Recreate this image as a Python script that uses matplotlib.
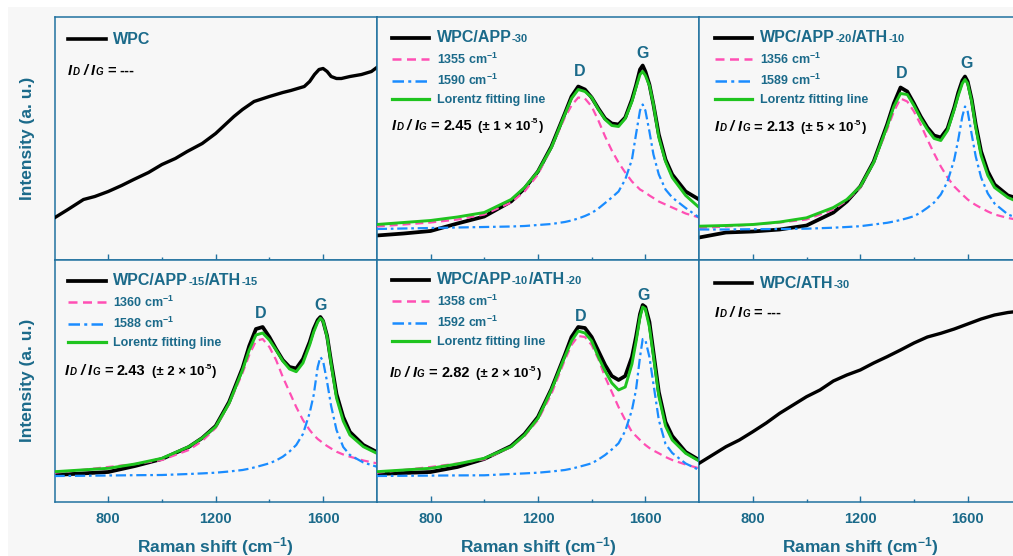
import matplotlib
matplotlib.use("Agg")
import matplotlib.pyplot as plt
from matplotlib.font_manager import FontProperties
from matplotlib.lines import Line2D
from matplotlib.patches import Rectangle
from matplotlib.ticker import FixedLocator

FONT = "Liberation Sans"
plt.rcParams["font.family"] = [FONT, "DejaVu Sans"]
plt.rcParams["mathtext.fontset"] = "custom"
plt.rcParams["mathtext.rm"] = "Liberation Sans:bold"
plt.rcParams["mathtext.bf"] = "Liberation Sans:bold"
plt.rcParams["mathtext.it"] = "Liberation Sans:bold:italic"
plt.rcParams["mathtext.sf"] = "Liberation Sans:bold"
plt.rcParams["mathtext.default"] = "rm"

# ---------------- data ----------------
x_wpc = [600, 650, 708, 750, 800, 850, 895, 950, 1000, 1050, 1094, 1150, 1200, 1240,
         1268, 1300, 1343, 1400, 1450, 1480, 1530, 1550, 1568, 1585, 1600, 1615, 1630,
         1650, 1668, 1700, 1743, 1780, 1800]
y_wpc = [41.7, 50, 60, 63, 68, 74, 80, 87, 95, 101, 108, 116, 126, 136,
         143, 150, 158, 163, 167, 169, 173, 178, 185, 190, 191, 188, 183,
         181, 181, 183, 185, 188, 192]

x_ath30 = [600, 650, 700, 750, 800, 850, 900, 950, 1000, 1050, 1100, 1150, 1200, 1250,
           1300, 1350, 1400, 1450, 1500, 1550, 1600, 1650, 1700, 1750, 1800]
y_ath30 = [38.7, 47, 55.3, 62, 70.3, 79, 88.7, 97, 105.3, 112, 121, 127, 132, 139,
           145.3, 152, 159, 165, 168.7, 173, 178, 183, 187, 189.5, 191]

x_fit = [600, 700, 800, 900, 1000, 1100, 1150, 1200, 1250, 1300, 1325, 1350, 1375, 1400,
         1425, 1450, 1475, 1500, 1525, 1550, 1565, 1580, 1590, 1600, 1615, 1630, 1650,
         1675, 1700, 1750, 1800]

# WPC/APP-30
app30_raw = [24, 26, 28.5, 36, 43, 58, 71, 88, 113, 146, 163, 173, 170, 162,
             151, 141, 136, 135, 142, 160, 174, 190, 194, 188, 175, 155, 125,
             100, 85, 68, 60]
app30_d = [33, 35, 37, 40, 45, 57, 68, 85, 112, 142, 154, 162, 161, 153,
           139, 123, 109, 97, 87, 78, 74, 70, 68.5, 67, 64, 61.5, 58,
           55, 52, 46, 42]
app30_g = [30.5, 31, 31.5, 32, 32.5, 33, 33.5, 34.5, 35.5, 37.5, 39, 41, 43.5, 46.5,
           51, 56.5, 62, 68, 80, 100, 125, 149, 155, 149, 128, 105, 85,
           70, 62, 51.5, 42]
app30_fit = [35, 37, 39, 42.5, 47, 60, 72, 88, 112, 145, 161, 170, 168, 162,
             150, 140, 134, 133, 141, 158, 172, 185, 188, 184, 174, 155, 122,
             98, 82, 64, 52]

# WPC/APP-20/ATH-10
a20_raw = [22, 27, 28, 30, 34, 47, 58, 73, 98, 135, 156, 172, 168, 156,
           143, 132, 124, 122, 131, 152, 167, 179, 183, 178, 160, 135, 108,
           88, 75, 64, 60]
a20_d = [31.5, 33, 35, 37, 40, 50, 59, 72, 97, 130, 148, 161, 158, 148,
         135, 120, 106, 93, 82, 73, 69, 65, 62.5, 60, 57, 54.5, 51.5,
         48, 45, 41.5, 39]
a20_g = [30, 30, 30.3, 30.5, 30.8, 31.8, 32.5, 33.3, 35, 36.7, 38, 39.5, 41.3, 43.3,
         47, 51.7, 57, 65, 78, 100, 120, 143, 153, 148, 125, 103, 82,
         66, 56, 45, 40]
a20_fit = [33.3, 34, 35, 37.5, 41.7, 52, 60, 73, 97, 133, 153, 166, 165, 154,
           141, 130, 121, 119, 129, 150, 164, 176, 180, 176, 158, 132, 104,
           84, 72, 62, 56]

# WPC/APP-15/ATH-15
a15_raw = [27, 28.5, 30, 36, 43, 55, 64, 76, 100, 134, 156, 173, 175, 165,
           153, 142, 135, 133.5, 143, 160, 173, 182, 185, 181, 166, 140, 108,
           85, 70, 57, 50]
a15_d = [29.3, 32, 35, 38, 42, 52, 61, 74, 98, 129, 147, 161, 163, 155,
         142, 125, 110, 95, 82, 72, 67, 63, 61, 58.7, 56, 53.5, 50.3,
         47.5, 45.3, 41.5, 38.7]
a15_g = [26, 26.2, 26.5, 26.8, 27, 28, 28.6, 29.3, 30.5, 32, 33.3, 35, 36.8, 38.7,
         41.5, 45.3, 50.5, 57, 68, 89, 107, 135, 145, 141, 120, 96, 72,
         55, 47, 39.5, 35.3]
a15_fit = [30.3, 32, 33.7, 38, 43.7, 55.3, 64, 75.3, 98.7, 132, 152, 167, 169, 162,
           152, 141, 133, 130.3, 139, 157, 170, 180, 183.7, 181, 165, 138, 104,
           81, 67, 55.3, 48.7]

# WPC/APP-10/ATH-20
a10_raw = [28, 29, 30, 35, 43, 56, 68, 85, 113, 147, 165, 175, 174, 165,
           151, 137, 126, 122, 126, 145, 165, 188, 197, 195, 180, 150, 110,
           80, 66, 50, 42]
a10_d = [29.3, 32, 35, 38.5, 42.7, 55, 66, 82, 108, 142, 157, 166, 165, 157,
         143, 125, 110, 95, 82, 70, 66, 62, 59.5, 57, 54, 51.5, 48.7,
         45, 42, 37.5, 33.7]
a10_g = [26, 26.2, 26.4, 26.6, 26.7, 28, 28.6, 29.3, 30.5, 32, 33.3, 35, 36.8, 38.7,
         42.5, 47, 52.5, 58.7, 71, 92, 112, 145, 163, 162, 145, 118, 82,
         58, 49, 38.5, 32]
a10_fit = [30.3, 32, 33.7, 38, 43.7, 55.3, 67, 83.7, 112, 145.3, 161, 171, 169, 161,
           145, 131, 119, 112, 115, 138, 160, 185, 195, 193, 175, 146, 106,
           76, 62, 48.7, 41]

x_ticks_major = [800, 1200, 1600]
x_ticks_minor = [1000, 1400]

# ---------------- style ----------------
BG = "#f7f7f7"
TEAL = "#1b6a8a"
SPINE = "#2272a0"
PINK = "#ff4fb4"
BLUE = "#1a8cff"
GREEN = "#1fc41f"
DASH_D = (0, (3.6, 2.2))
DASH_G = (0, (4.6, 1.7, 1.2, 1.7))

W, H = 1013, 556
fig = plt.figure(figsize=(W / 100, H / 100), dpi=100, facecolor=BG)
renderer = fig.canvas.get_renderer()
fig.patches.append(Rectangle((0, 1 - 7 / H), 1, 7 / H, transform=fig.transFigure,
                             facecolor="white", edgecolor="none", zorder=0))
fig.patches.append(Rectangle((0, 0), 8 / W, 1, transform=fig.transFigure,
                             facecolor="white", edgecolor="none", zorder=0))

col_left = [54.5, 376.8, 699.1]
row_top = [17, 259.5]
AW, AH = 322.3, 242.5


def descent_pt(fp, s):
    _, _, d1 = renderer.get_text_width_height_descent("lp", fp, ismath=False)
    _, _, d2 = renderer.get_text_width_height_descent(s, fp, ismath=False)
    return max(d1, d2) * 72.0 / fig.dpi


def rich_line(ax, x, y, parts, color="black"):
    s0, size0, style0, _, _ = parts[0]
    fp0 = FontProperties(family=FONT, size=size0, style=style0, weight="bold")
    t0 = ax.text(x, y, s0, transform=ax.transAxes, fontproperties=fp0,
                 va="baseline", ha="left", color=color, zorder=7)
    prev, pfp, ps, prise = t0, fp0, s0, 0
    for s, size, style, gap, rise in parts[1:]:
        fp = FontProperties(family=FONT, size=size, style=style, weight="bold")
        d = descent_pt(pfp, ps)
        t = ax.annotate(s, xy=(1, 0), xycoords=prev,
                        xytext=(gap, d + rise - prise), textcoords="offset points",
                        fontproperties=fp, color=color,
                        va="baseline", ha="left", zorder=7)
        prev, pfp, ps, prise = t, fp, s, rise


def ratio_parts(value, err):
    base = [("I", 10.5, "italic", 0, 0), ("D", 7, "italic", 0.3, 0),
            ("/", 10.5, "italic", 2.5, 0), ("I", 10.5, "italic", 2.5, 0),
            ("G", 7, "italic", 0.3, 0), ("=", 10.5, "normal", 3, 0)]
    if value is None:
        return base + [("---", 10.5, "normal", 3, 0)]
    return base + [(value, 10.5, "normal", 3, 0),
                   ("(\u00b1 " + err + " \u00d7 10", 9.5, "normal", 4.5, 0),
                   ("-5", 6, "normal", 0.2, 4.4),
                   (")", 9.5, "normal", 0.3, 0)]


panels = [
    dict(r=0, c=0, name=[("WPC", 11.5)], ratio=None, raw=(x_wpc, y_wpc),
         leg=(0.042, 0.940), rat=(0.042, 0.761)),
    dict(r=0, c=1, name=[("WPC/APP", 11.5), ("-30", 8)], ratio=("2.45", "1"),
         fit=(app30_raw, app30_d, app30_g, app30_fit), peaks=("1355", "1590"),
         lab=((1356, 183), (1589, 202)), leg=(0.0465, 0.946), rat=(0.0465, 0.536)),
    dict(r=0, c=2, name=[("WPC/APP", 11.5), ("-20", 8), ("/ATH", 11.5), ("-10", 8)],
         ratio=("2.13", "5"), fit=(a20_raw, a20_d, a20_g, a20_fit), peaks=("1356", "1589"),
         lab=((1354, 182), (1596, 192)), leg=(0.049, 0.946), rat=(0.049, 0.528)),
    dict(r=1, c=0, name=[("WPC/APP", 11.5), ("-15", 8), ("/ATH", 11.5), ("-15", 8)],
         ratio=("2.43", "2"), fit=(a15_raw, a15_d, a15_g, a15_fit), peaks=("1360", "1588"),
         lab=((1366, 184), (1592, 192)), leg=(0.042, 0.943), rat=(0.033, 0.524)),
    dict(r=1, c=1, name=[("WPC/APP", 11.5), ("-10", 8), ("/ATH", 11.5), ("-20", 8)],
         ratio=("2.82", "2"), fit=(a10_raw, a10_d, a10_g, a10_fit), peaks=("1358", "1592"),
         lab=((1358, 181), (1595, 202)), leg=(0.0465, 0.948), rat=(0.040, 0.515)),
    dict(r=1, c=2, name=[("WPC/ATH", 11.5), ("-30", 8)], ratio=None, raw=(x_ath30, y_ath30),
         leg=(0.049, 0.934), rat=(0.049, 0.763)),
]

for p in panels:
    l = col_left[p["c"]]
    t = row_top[p["r"]]
    ax = fig.add_axes([l / W, (H - t - AH) / H, AW / W, AH / H])
    ax.set_facecolor(BG)
    ax.set_xlim(600, 1800)
    ax.set_ylim(0, AH)
    for sp in ax.spines.values():
        sp.set_color(SPINE)
        sp.set_linewidth(1.1)
    ax.set_yticks([])
    ax.xaxis.set_major_locator(FixedLocator(x_ticks_major))
    ax.xaxis.set_minor_locator(FixedLocator(x_ticks_minor))
    ax.tick_params(axis="x", which="both", direction="in", color=SPINE, width=1.0,
                   top=False, labelcolor=TEAL, labelsize=10.5, pad=7)
    ax.tick_params(axis="x", which="major", length=4)
    ax.tick_params(axis="x", which="minor", length=2.2)
    for lab in ax.get_xticklabels():
        lab.set_fontweight("bold")
    if p["r"] == 0:
        ax.tick_params(axis="x", labelbottom=False)
    else:
        ax.set_xlabel("Raman shift (cm$^{-1}$)", fontsize=12.5, fontweight="bold",
                      color=TEAL, labelpad=6.5)
    if p["c"] == 0:
        ax.set_ylabel("Intensity (a. u.)", fontsize=12.5, fontweight="bold",
                      color=TEAL, labelpad=14)

    main_label = p["name"][0][0]
    if "raw" in p:
        xr, yr = p["raw"]
        ax.plot(xr, yr, color="black", lw=2.4, solid_joinstyle="round", zorder=3)
        handles = [Line2D([], [], color="black", lw=2.6)]
        labels = [main_label]
    else:
        raw, dd, gg, ff = p["fit"]
        ax.plot(x_fit, raw, color="black", lw=2.7, solid_joinstyle="round", zorder=2)
        ax.plot(x_fit, dd, color=PINK, lw=1.6, ls=DASH_D, zorder=3)
        ax.plot(x_fit, gg, color=BLUE, lw=1.6, ls=DASH_G, zorder=3)
        ax.plot(x_fit, ff, color=GREEN, lw=2.1, solid_joinstyle="round", zorder=4)
        handles = [Line2D([], [], color="black", lw=2.7),
                   Line2D([], [], color=PINK, lw=1.8, ls=DASH_D),
                   Line2D([], [], color=BLUE, lw=1.8, ls=DASH_G),
                   Line2D([], [], color=GREEN, lw=2.3)]
        labels = [main_label, p["peaks"][0] + " cm$^{-1}$", p["peaks"][1] + " cm$^{-1}$",
                  "Lorentz fitting line"]
        (dx, dy), (gx, gy) = p["lab"]
        ax.text(dx, dy, "D", ha="center", va="baseline", fontsize=11.5,
                fontweight="bold", color=TEAL, zorder=6)
        ax.text(gx, gy, "G", ha="center", va="baseline", fontsize=11.5,
                fontweight="bold", color=TEAL, zorder=6)

    leg = ax.legend(handles, labels, loc="upper left", bbox_to_anchor=p["leg"],
                    frameon=False, borderpad=0, borderaxespad=0, handlelength=3.0,
                    handletextpad=0.6, labelspacing=0.5,
                    prop=FontProperties(family=FONT, size=9, weight="bold"),
                    labelcolor=TEAL)
    leg.set_zorder(5)
    texts = leg.get_texts()
    texts[0].set_fontsize(11.5)
    fp_main = FontProperties(family=FONT, size=11.5, weight="bold")
    prev, pfp, ps = texts[0], fp_main, main_label
    for s, sz in p["name"][1:]:
        fp = FontProperties(family=FONT, size=sz, weight="bold")
        d = descent_pt(pfp, ps)
        tt = ax.annotate(s, xy=(1, 0), xycoords=prev, xytext=(0.3, d),
                         textcoords="offset points", fontproperties=fp,
                         color=TEAL, va="baseline", ha="left", zorder=7)
        prev, pfp, ps = tt, fp, s

    if p["ratio"] is None:
        parts = ratio_parts(None, None)
    else:
        parts = ratio_parts(*p["ratio"])
    rich_line(ax, p["rat"][0], p["rat"][1], parts)

fig.savefig("out.png", dpi=100, facecolor=BG)
